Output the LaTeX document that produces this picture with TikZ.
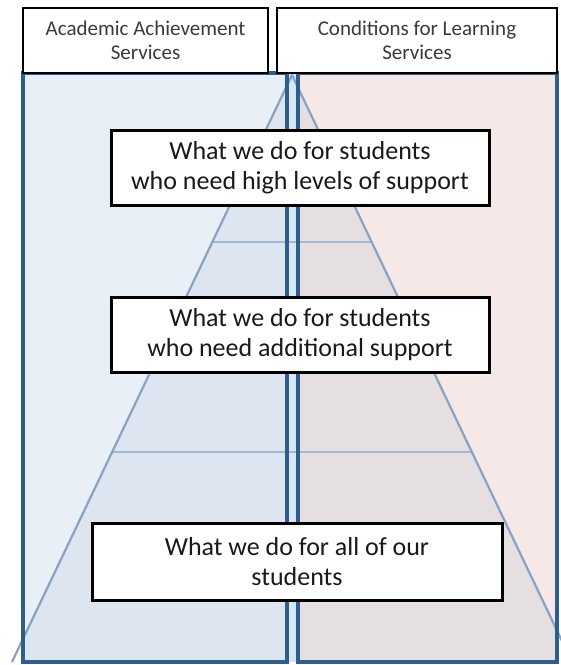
\documentclass[tikz,border=0pt]{standalone}
\usepackage{fontspec}
\setmainfont{Carlito}
\definecolor{panelL}{HTML}{E9EFF6}
\definecolor{panelR}{HTML}{F6E8E6}
\definecolor{pyrL}{HTML}{DCE5F0}
\definecolor{pyrR}{HTML}{E6DFE1}
\definecolor{strip}{HTML}{D5E6F4}
\definecolor{edgeblue}{HTML}{2F5D8C}
\definecolor{pyrline}{HTML}{8AA2C2}
\definecolor{hline}{HTML}{A3B7D0}
\definecolor{headtext}{HTML}{3A3A3A}
\tikzset{
  headbox/.style={draw=black, line width=2.8pt, fill=white, inner sep=0pt,
    align=center, text=headtext, font=\fontsize{21}{24}\selectfont},
  tierbox/.style={draw=black, line width=3pt, fill=white, inner sep=0pt,
    align=center, text=black!90, font=\fontsize{26}{30}\selectfont},
  panel/.style={draw=edgeblue, line width=3.2pt},
  pyredge/.style={draw=pyrline, line width=2.2pt},
  tierline/.style={draw=hline, line width=1.3pt}
}
\begin{document}
\begin{tikzpicture}[x=1pt,y=-1pt]
\useasboundingbox (0,0) rectangle (561,665);
\fill[white] (0,0) rectangle (561,665);
% coordinates
\coordinate (apex) at (292,75);
\coordinate (bl) at (12,662);
\coordinate (br) at (572,662);
% panel fills
\fill[panelL] (23,73) rectangle (287,662);
\fill[panelR] (298,73) rectangle (557,662);
% pyramid fills
\begin{scope}
  \clip (23,73) rectangle (287,662);
  \fill[pyrL] (apex) -- (bl) -- (br) -- cycle;
\end{scope}
\begin{scope}
  \clip (298,73) rectangle (557,662);
  \fill[pyrR] (apex) -- (bl) -- (br) -- cycle;
\end{scope}
\fill[strip] (287,73) rectangle (298,662);
% tier lines
\coordinate (t1l) at (212,242);
\coordinate (t1r) at (372,242);
\coordinate (t2l) at (112,452);
\coordinate (t2r) at (472,452);
\draw[tierline] (t1l) -- (t1r);
\draw[tierline] (t2l) -- (t2r);
% pyramid edges
\begin{scope}
  \clip (0,0) rectangle (561,665);
  \draw[pyredge] (bl) -- (apex) -- (br);
\end{scope}
% panel outlines
\draw[panel] (23,73) rectangle (287,662);
\draw[panel] (298,73) rectangle (557,662);
% headers
\node[headbox, minimum width=245pt, minimum height=65pt] (hL) at (145.5,40.5)
  {Academic Achievement\\Services};
\node[headbox, minimum width=280pt, minimum height=65pt] (hR) at (417,40.5)
  {Conditions for Learning\\Services};
% tier boxes
\node[tierbox, minimum width=378pt, minimum height=75pt] (b1) at (300,168)
  {What we do for students\\who need high levels of support};
\node[tierbox, minimum width=378pt, minimum height=75pt] (b2) at (300,335)
  {What we do for students\\who need additional support};
\node[tierbox, minimum width=410pt, minimum height=77pt] (b3) at (297,561.5)
  {What we do for all of our\\students};
\end{tikzpicture}
\end{document}
